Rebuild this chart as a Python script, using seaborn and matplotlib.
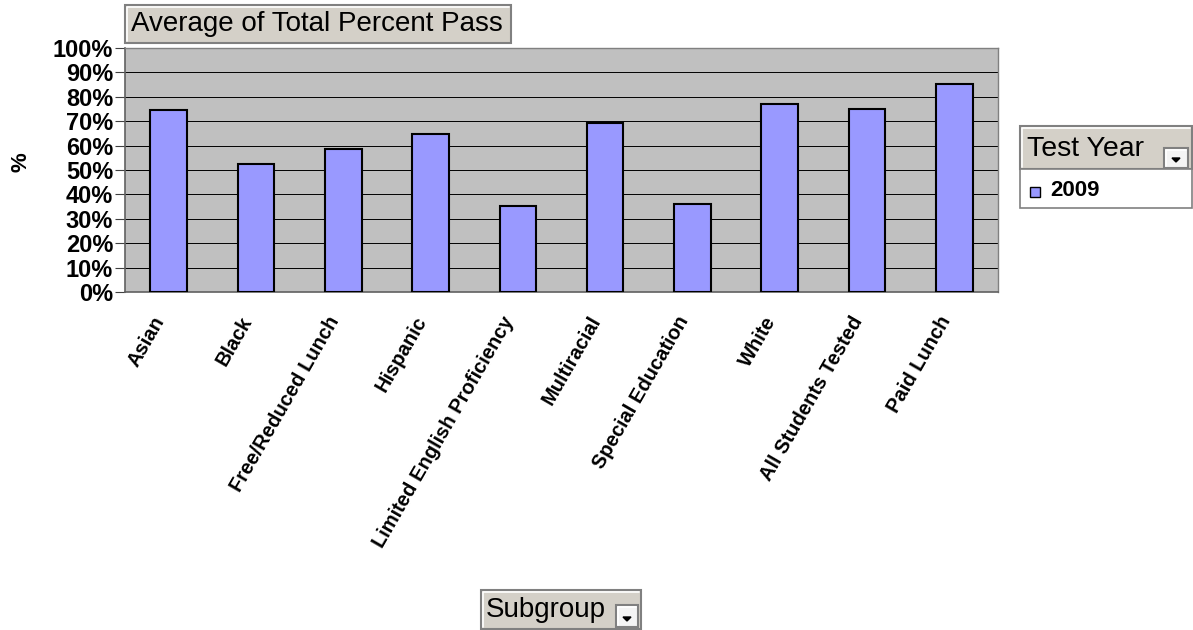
import matplotlib
matplotlib.use('Agg')
import matplotlib.pyplot as plt
import seaborn as sns
from matplotlib.patches import Rectangle, Polygon
from matplotlib.ticker import FixedLocator, PercentFormatter

# data
subgroups = ['Asian', 'Black', 'Free/Reduced Lunch', 'Hispanic',
             'Limited English Proficiency', 'Multiracial', 'Special Education',
             'White', 'All Students Tested', 'Paid Lunch']
pass_pct = [0.744, 0.523, 0.588, 0.647, 0.353, 0.692, 0.362, 0.772, 0.750, 0.854]
yticks = [0, 0.1, 0.2, 0.3, 0.4, 0.5, 0.6, 0.7, 0.8, 0.9, 1.0]
series_name = '2009'

W, H = 1193, 630
sns.set_style('white')
plt.rcParams['font.family'] = ['Liberation Sans', 'DejaVu Sans']
plt.rcParams['text.color'] = 'black'
plt.rcParams['xtick.color'] = 'black'
plt.rcParams['ytick.color'] = 'black'

fig = plt.figure(figsize=(W / 100, H / 100), dpi=100)
ax = fig.add_axes([125 / W, 1 - 292 / H, (998 - 125) / W, (292 - 48) / H])

bar_color = '#9999ff'
sns.barplot(x=subgroups, y=pass_pct, color=bar_color, saturation=1,
            edgecolor='black', linewidth=1.5, width=0.42, ax=ax, zorder=3)

ax.set_facecolor('#c0c0c0')
ax.set_ylim(0, 1)
ax.set_xlim(-0.5, len(subgroups) - 0.5)
ax.yaxis.set_major_locator(FixedLocator(yticks))
ax.yaxis.set_major_formatter(PercentFormatter(1.0, decimals=0))
ax.grid(axis='y', color='black', linewidth=0.7, zorder=1)
ax.set_axisbelow(True)
for s in ['top', 'right']:
    ax.spines[s].set_color('#808080')
    ax.spines[s].set_linewidth(1)
for s in ['left', 'bottom']:
    ax.spines[s].set_color('#606060')
    ax.spines[s].set_linewidth(1.2)

# excel-like ticks: category boundaries on x, labels at centres
ax.tick_params(axis='x', which='major', length=0, pad=22)
ax.set_xticks([i - 0.5 for i in range(len(subgroups) + 1)], minor=True)
ax.tick_params(axis='x', which='minor', length=6, direction='out', color='#404040')
ax.tick_params(axis='y', length=7, direction='out', color='#404040', pad=1.5,
               left=True)
for lab in ax.get_yticklabels():
    lab.set_fontweight('bold')
    lab.set_fontsize(17)
for lab in ax.get_xticklabels():
    lab.set_rotation(60)
    lab.set_ha('right')
    lab.set_va('bottom')
    lab.set_rotation_mode('anchor')
    lab.set_fontweight('bold')
    lab.set_fontsize(14.5)
ax.set_xlabel('')
ax.set_ylabel('')


def fx(x):
    return x / W


def fy(y):
    return 1 - y / H


fig.text(fx(21), fy(162), '%', fontsize=16, fontweight='bold', rotation=90,
         ha='center', va='center')


def button(x0, y0, x1, y1, face='#d4d0c8'):
    fig.patches.append(Rectangle((fx(x0), fy(y1)), fx(x1) - fx(x0), fy(y0) - fy(y1),
                                 transform=fig.transFigure, facecolor=face,
                                 edgecolor='#808080', linewidth=1.5))
    fig.lines.append(plt.Line2D([fx(x0 + 2), fx(x0 + 2), fx(x1 - 2)],
                                [fy(y1 - 2), fy(y0 + 2), fy(y0 + 2)],
                                transform=fig.transFigure, color='white', linewidth=1.2))


def dropdown(x0, y0, x1, y1):
    button(x0, y0, x1, y1, face='#f4f4f4')
    cx = (x0 + x1) / 2
    cy = y1 - 7
    fig.patches.append(Polygon([(fx(cx - 4), fy(cy - 3)), (fx(cx + 4), fy(cy - 3)),
                                (fx(cx), fy(cy + 1))], closed=True,
                               transform=fig.transFigure, color='black'))


# title button
button(125, 5, 511, 43)
fig.text(fx(131), fy(24), 'Average of Total Percent Pass', fontsize=20,
         va='center', ha='left')

# legend / page field
button(1020, 126, 1192, 169)
fig.text(fx(1027), fy(149), 'Test Year', fontsize=20.5, va='center', ha='left')
dropdown(1164, 148, 1188, 168)
fig.patches.append(Rectangle((fx(1020), fy(208)), fx(1192) - fx(1020), fy(169) - fy(208),
                             transform=fig.transFigure, facecolor='white',
                             edgecolor='#808080', linewidth=1.2))
fig.patches.append(Rectangle((fx(1030), fy(197)), fx(1040) - fx(1030), fy(187) - fy(197),
                             transform=fig.transFigure, facecolor=bar_color,
                             edgecolor='black', linewidth=1))
fig.text(fx(1050), fy(191), series_name, fontsize=16, fontweight='bold',
         va='center', ha='left')

# subgroup field button
button(481, 590, 641, 629)
fig.text(fx(486), fy(610), 'Subgroup', fontsize=20, va='center', ha='left')
dropdown(616, 605, 638, 627)

fig.savefig('out.png', dpi=100)
